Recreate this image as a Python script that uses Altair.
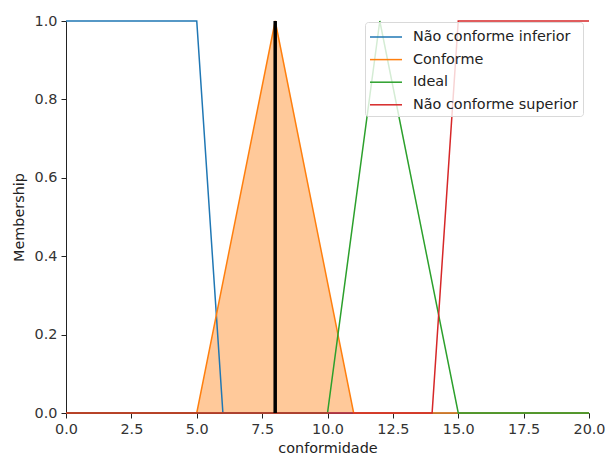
import altair as alt
import pandas as pd

series_names = ["Não conforme inferior", "Conforme", "Ideal", "Não conforme superior"]
series_colors = ["#1f77b4", "#ff7f0e", "#2ca02c", "#d62728"]

inferior_x = [0, 5, 6, 20]
inferior_y = [1, 1, 0, 0]
conforme_x = [0, 5, 8, 11, 20]
conforme_y = [0, 0, 1, 0, 0]
ideal_x = [0, 10, 12, 15, 20]
ideal_y = [0, 0, 1, 0, 0]
superior_x = [0, 14, 15, 20]
superior_y = [0, 0, 1, 1]

crisp_value = 8.0
x_ticks = [0, 2.5, 5, 7.5, 10, 12.5, 15, 17.5, 20]
y_ticks = [0, 0.2, 0.4, 0.6, 0.8, 1.0]

rows = []
for name, xs, ys in zip(series_names,
                        [inferior_x, conforme_x, ideal_x, superior_x],
                        [inferior_y, conforme_y, ideal_y, superior_y]):
    for i, (xv, yv) in enumerate(zip(xs, ys)):
        rows.append({"series": name, "x": xv, "y": yv, "i": i})
df = pd.DataFrame(rows)

FS = 14.4
xscale = alt.Scale(domain=[0, 20], nice=False, zero=False)
yscale = alt.Scale(domain=[0, 1], nice=False)
color_scale = alt.Scale(domain=series_names, range=series_colors)

xenc = alt.X("x:Q", scale=xscale, title="conformidade",
             axis=alt.Axis(values=x_ticks, format=".1f", grid=False, labelFlush=False))
yenc = alt.Y("y:Q", scale=yscale, title="Membership",
             axis=alt.Axis(values=y_ticks, format=".1f", grid=False, labelFlush=False))

fill = alt.Chart(df).transform_filter(alt.datum.series == "Conforme").mark_area(
    color="#ff7f0e", opacity=0.42
).encode(x=xenc, y=yenc, order="i:Q")

lines = []
for name in series_names:
    lines.append(
        alt.Chart(df).transform_filter(alt.datum.series == name).mark_line(strokeWidth=1.5).encode(
            x=xenc, y=yenc, order="i:Q",
            color=alt.Color("series:N", scale=color_scale, sort=series_names,
                            legend=alt.Legend(
                                title=None, orient="none", legendX=299, legendY=1,
                                symbolType="M-1.6,0L1.6,0", symbolSize=400, symbolStrokeWidth=1.5,
                                symbolOffset=6,
                                labelFontSize=FS, labelFont="DejaVu Sans", labelColor="#222",
                                labelLimit=400,
                                rowPadding=4.6, padding=4, labelOffset=16,
                                strokeColor="#d9d9d9", cornerRadius=3,
                                fillColor="rgba(255,255,255,0.8)"))
        )
    )

crisp = pd.DataFrame({"x": [crisp_value], "y": [0.0], "y2": [1.0]})
rule = alt.Chart(crisp).mark_rule(color="black", strokeWidth=3.5).encode(
    x=alt.X("x:Q", scale=xscale), y=alt.Y("y:Q", scale=yscale), y2="y2:Q")

chart = alt.layer(fill, *lines, rule).properties(
    width=523, height=392,
    autosize=alt.AutoSizeParams(type="none"),
    padding={"left": 58, "top": 13, "right": 16, "bottom": 44},
).configure_view(stroke=None).configure_axis(
    labelFont="DejaVu Sans", titleFont="DejaVu Sans", labelFontSize=FS, titleFontSize=FS,
    titleFontWeight="normal", labelColor="#333", titleColor="#222",
    domainColor="#222", tickColor="#222", tickSize=5, labelPadding=4
).configure_axisY(titlePadding=8).configure_axisX(titlePadding=6)

chart.save("out.html", embed_options={"renderer": "svg", "actions": False})
